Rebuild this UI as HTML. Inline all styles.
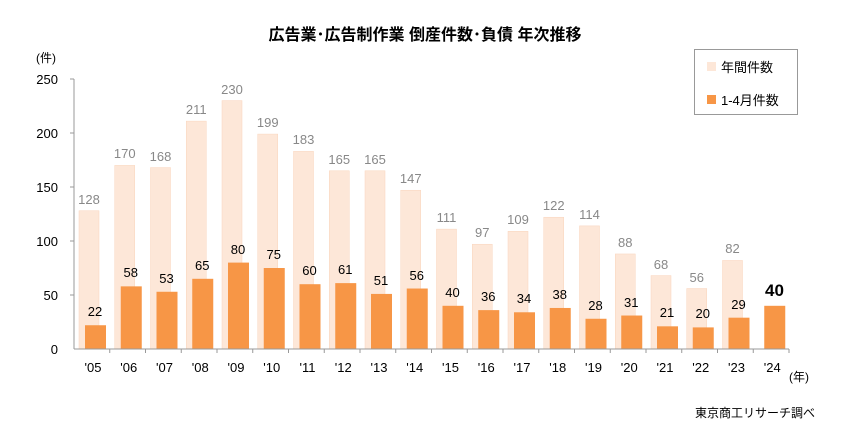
<!DOCTYPE html>
<html><head><meta charset="utf-8"><style>
body{margin:0;background:#fff;}
svg{display:block;font-family:"Liberation Sans","Noto Sans CJK JP",sans-serif;}
</style></head><body>
<svg width="850" height="429" viewBox="0 0 850 429" xmlns="http://www.w3.org/2000/svg">
<text x="425" y="40" text-anchor="middle" font-size="16" font-weight="bold" fill="#000">広告業･広告制作業 倒産件数･負債 年次推移</text>
<text x="36" y="62" font-size="12" fill="#000">(件)</text>
<g font-size="13" fill="#000" text-anchor="end">
<text x="58" y="84">250</text><text x="58" y="138">200</text><text x="58" y="192">150</text>
<text x="58" y="246">100</text><text x="58" y="300">50</text><text x="58" y="354">0</text>
</g>
<line x1="74" y1="79" x2="74" y2="349" stroke="#999"/>
<g stroke="#999"><line x1="70" y1="79" x2="74" y2="79"/><line x1="70" y1="133" x2="74" y2="133"/><line x1="70" y1="187" x2="74" y2="187"/><line x1="70" y1="241" x2="74" y2="241"/><line x1="70" y1="295" x2="74" y2="295"/></g>

<g fill="#fde7d8" stroke="#f9d5bd" stroke-width="0.5">
<rect x="79" y="210.76" width="20" height="138.24"/>
<rect x="114.75" y="165.4" width="20" height="183.6"/>
<rect x="150.5" y="167.56" width="20" height="181.44"/>
<rect x="186.25" y="121.12" width="20" height="227.88"/>
<rect x="222" y="100.6" width="20" height="248.4"/>
<rect x="257.75" y="134.08" width="20" height="214.92"/>
<rect x="293.5" y="151.36" width="20" height="197.64"/>
<rect x="329.25" y="170.8" width="20" height="178.2"/>
<rect x="365" y="170.8" width="20" height="178.2"/>
<rect x="400.75" y="190.24" width="20" height="158.76"/>
<rect x="436.5" y="229.12" width="20" height="119.88"/>
<rect x="472.25" y="244.24" width="20" height="104.76"/>
<rect x="508" y="231.28" width="20" height="117.72"/>
<rect x="543.75" y="217.24" width="20" height="131.76"/>
<rect x="579.5" y="225.88" width="20" height="123.12"/>
<rect x="615.25" y="253.96" width="20" height="95.04"/>
<rect x="651" y="275.56" width="20" height="73.44"/>
<rect x="686.75" y="288.52" width="20" height="60.48"/>
<rect x="722.5" y="260.44" width="20" height="88.56"/>
</g>
<g font-size="13" fill="#888" text-anchor="middle">
<text x="89" y="204">128</text><text x="124.75" y="158">170</text><text x="160.5" y="161">168</text>
<text x="196.25" y="114">211</text><text x="232" y="94">230</text><text x="267.75" y="127">199</text>
<text x="303.5" y="144">183</text><text x="339.25" y="164">165</text><text x="375" y="164">165</text>
<text x="410.75" y="183">147</text><text x="446.5" y="222">111</text><text x="482.25" y="237">97</text>
<text x="518" y="224">109</text><text x="553.75" y="210">122</text><text x="589.5" y="219">114</text>
<text x="625.25" y="247">88</text><text x="661" y="269">68</text><text x="696.75" y="282">56</text>
<text x="732.5" y="253">82</text>
</g>
<g fill="#f79646">
<rect x="85" y="325.24" width="21" height="23.76"/>
<rect x="120.75" y="286.36" width="21" height="62.64"/>
<rect x="156.5" y="291.76" width="21" height="57.24"/>
<rect x="192.25" y="278.8" width="21" height="70.2"/>
<rect x="228" y="262.6" width="21" height="86.4"/>
<rect x="263.75" y="268" width="21" height="81"/>
<rect x="299.5" y="284.2" width="21" height="64.8"/>
<rect x="335.25" y="283.12" width="21" height="65.88"/>
<rect x="371" y="293.92" width="21" height="55.08"/>
<rect x="406.75" y="288.52" width="21" height="60.48"/>
<rect x="442.5" y="305.8" width="21" height="43.2"/>
<rect x="478.25" y="310.12" width="21" height="38.88"/>
<rect x="514" y="312.28" width="21" height="36.72"/>
<rect x="549.75" y="307.96" width="21" height="41.04"/>
<rect x="585.5" y="318.76" width="21" height="30.24"/>
<rect x="621.25" y="315.52" width="21" height="33.48"/>
<rect x="657" y="326.32" width="21" height="22.68"/>
<rect x="692.75" y="327.4" width="21" height="21.6"/>
<rect x="728.5" y="317.68" width="21" height="31.32"/>
<rect x="764.25" y="305.8" width="21" height="43.2"/>
</g>
<g font-size="13" fill="#000" text-anchor="middle">
<text x="95" y="316">22</text><text x="130.75" y="277">58</text><text x="166.5" y="283">53</text>
<text x="202.25" y="270">65</text><text x="238" y="254">80</text><text x="273.75" y="259">75</text>
<text x="309.5" y="275">60</text><text x="345.25" y="274">61</text><text x="381" y="285">51</text>
<text x="416.75" y="280">56</text><text x="452.5" y="297">40</text><text x="488.25" y="301">36</text>
<text x="524" y="303">34</text><text x="559.75" y="299">38</text><text x="595.5" y="310">28</text>
<text x="631.25" y="307">31</text><text x="667" y="317">21</text><text x="702.75" y="318">20</text>
<text x="738.5" y="309">29</text>
<text x="774.5" y="296" font-size="17" font-weight="bold">40</text>
</g>
<line x1="74" y1="349" x2="789" y2="349" stroke="#999"/>
<g stroke="#999">
<line x1="109.75" y1="349" x2="109.75" y2="353"/><line x1="145.5" y1="349" x2="145.5" y2="353"/>
<line x1="181.25" y1="349" x2="181.25" y2="353"/><line x1="217" y1="349" x2="217" y2="353"/>
<line x1="252.75" y1="349" x2="252.75" y2="353"/><line x1="288.5" y1="349" x2="288.5" y2="353"/>
<line x1="324.25" y1="349" x2="324.25" y2="353"/><line x1="360" y1="349" x2="360" y2="353"/>
<line x1="395.75" y1="349" x2="395.75" y2="353"/><line x1="431.5" y1="349" x2="431.5" y2="353"/>
<line x1="467.25" y1="349" x2="467.25" y2="353"/><line x1="503" y1="349" x2="503" y2="353"/>
<line x1="538.75" y1="349" x2="538.75" y2="353"/><line x1="574.5" y1="349" x2="574.5" y2="353"/>
<line x1="610.25" y1="349" x2="610.25" y2="353"/><line x1="646" y1="349" x2="646" y2="353"/>
<line x1="681.75" y1="349" x2="681.75" y2="353"/><line x1="717.5" y1="349" x2="717.5" y2="353"/>
<line x1="753.25" y1="349" x2="753.25" y2="353"/><line x1="789" y1="349" x2="789" y2="353"/>
</g>
<g font-size="13" fill="#000" text-anchor="middle">
<text x="93" y="372">'05</text><text x="128.75" y="372">'06</text><text x="164.5" y="372">'07</text>
<text x="200.25" y="372">'08</text><text x="236" y="372">'09</text><text x="271.75" y="372">'10</text>
<text x="307.5" y="372">'11</text><text x="343.25" y="372">'12</text><text x="379" y="372">'13</text>
<text x="414.75" y="372">'14</text><text x="450.5" y="372">'15</text><text x="486.25" y="372">'16</text>
<text x="522" y="372">'17</text><text x="557.75" y="372">'18</text><text x="593.5" y="372">'19</text>
<text x="629.25" y="372">'20</text><text x="665" y="372">'21</text><text x="700.75" y="372">'22</text>
<text x="736.5" y="372">'23</text><text x="772.25" y="372">'24</text>
</g>
<rect x="694.5" y="49.5" width="103" height="65" fill="#fff" stroke="#999"/>
<rect x="707" y="62" width="9" height="9" fill="#fde7d8"/>
<text x="721" y="72" font-size="13">年間件数</text>
<rect x="707" y="95" width="9" height="9" fill="#f79646"/>
<text x="721" y="105" font-size="13">1-4月件数</text>
<text x="789" y="381" font-size="12">(年)</text>
<text x="815" y="417" font-size="12" text-anchor="end">東京商工リサーチ調べ</text>
</svg>
</body></html>
